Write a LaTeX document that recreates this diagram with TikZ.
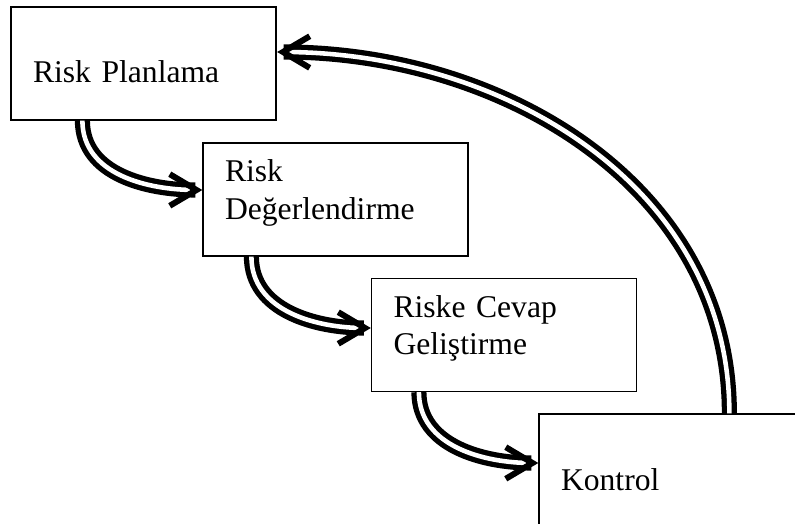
\documentclass[tikz,border=0pt]{standalone}
\usepackage{fontspec}
\setmainfont{Liberation Serif}
\usetikzlibrary{decorations.markings}
\newcommand{\okucu}{% chevron at the end of a connector
  \pgfsetshortenend{0pt}\pgfsetshortenstart{0pt}\pgfsetarrows{-}%
  \pgfsetlinewidth{3.4pt}\pgfsetmiterjoin\pgfsetstrokecolor{black}%
  \pgfpathmoveto{\pgfpoint{-18.5pt}{9pt}}%
  \pgfpathlineto{\pgfpoint{-3.3pt}{0pt}}%
  \pgfpathlineto{\pgfpoint{-18.5pt}{-9pt}}%
  \pgfusepath{stroke}}
\tikzset{kutu/.style={draw, line width=0.7pt, minimum width=5.3cm, minimum height=2.26cm,
    text width=4.42cm, inner xsep=0.44cm, align=left, font=\fontsize{18}{21.6}\selectfont},
  ok/.style={line width=8.6pt, shorten >=4pt,
    postaction={draw=white, line width=2.6pt},
    postaction={decorate, decoration={markings, mark=at position 0.999 with {\okucu}}}}}

\begin{document}
\begin{tikzpicture}[x=0.02cm,y=0.02cm]
\useasboundingbox (0,0) rectangle (795,524);
\clip (0,0) rectangle (795,524);
    \node[kutu, text height=0.78cm, text depth=0cm] (plan) at (143.5,460.5) {Risk Planlama};
    \node[kutu, text height=0.4cm, text depth=1.1cm] (deger) at (335.5,324.5) {Risk\\ Değerlendirme};
    \node[kutu, text height=0.4cm, text depth=1.12cm] (cevap) at (504,189) {Riske Cevap\\ Geliştirme};
    \node[kutu, text height=0.82cm, text depth=0cm] (kontrol) at (671.5,53.5) {Kontrol};
    % akis oklari
    \draw[ok] ([xshift=1.44cm]plan.south west) to[out=-90,in=180] ([yshift=0.19cm]deger.west);
    \draw[ok] ([xshift=0.98cm]deger.south west) to[out=-90,in=180] ([yshift=0.14cm]cevap.west);
    \draw[ok] ([xshift=0.96cm]cevap.south west) to[out=-90,in=180] ([yshift=0.15cm]kontrol.west);
    % geri donus
    \draw[ok] ([xshift=3.82cm]kontrol.north west) to[out=90,in=0] ([yshift=0.23cm]plan.east);
\end{tikzpicture}
\end{document}
